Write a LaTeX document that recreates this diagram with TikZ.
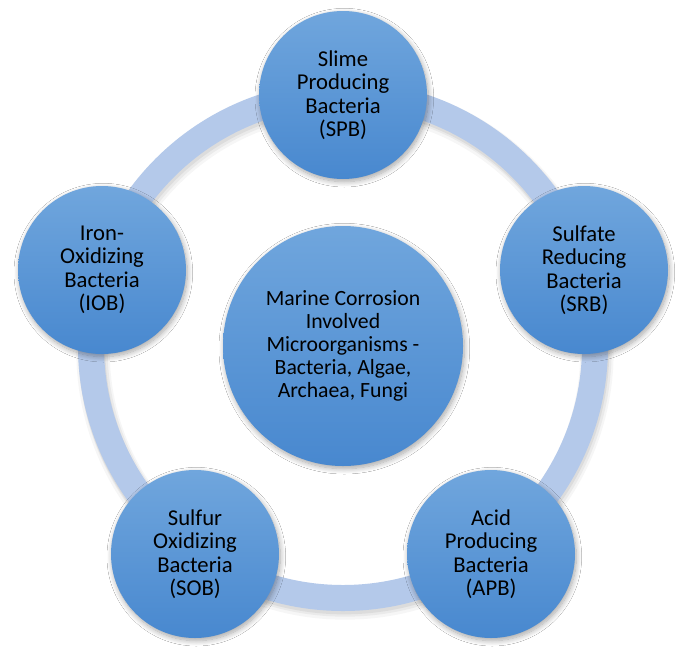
\documentclass[tikz,border=0pt]{standalone}
\usepackage{fontspec}
\setmainfont{Carlito}
\usetikzlibrary{shadows.blur}
\definecolor{ringblue}{RGB}{180,201,234}
\definecolor{topblue}{RGB}{112,166,221}
\definecolor{botblue}{RGB}{72,136,207}
\tikzset{
  bub/.style={circle, minimum size=168*0.75pt, inner sep=0pt, top color=topblue, bottom color=botblue, draw=none,
    blur shadow={shadow xshift=1pt, shadow yshift=-2pt, shadow blur steps=10, shadow opacity=35, shadow blur radius=4pt},
    align=center, font=\fontsize{17pt}{17.6pt}\selectfont, text=black},
  bigbub/.style={bub, minimum size=240*0.75pt, font=\fontsize{16.3pt}{17.3pt}\selectfont},
  ringstroke/.style={draw=ringblue, line width=19.5pt},
}
\begin{document}
\begin{tikzpicture}[x=0.75pt,y=-0.75pt]
\useasboundingbox (0,0) rectangle (685,661);
\fill[white] (0,0) rectangle (685,661);
\coordinate (c) at (343,346);
% ring shadow
\draw[black!60, opacity=0.06, line width=25pt] ([shift={(2,5)}]c) circle (252);
\draw[black!60, opacity=0.08, line width=22pt] ([shift={(2,4)}]c) circle (252);
\draw[black!60, opacity=0.10, line width=20pt] ([shift={(1,3)}]c) circle (252);
% ring
\draw[ringstroke] (c) circle (252);
% nodes
\node[bigbub] (mid) at (c) {Marine Corrosion\\Involved\\Microorganisms -\\Bacteria, Algae,\\Archaea, Fungi};
\node[bub] (spb) at (343,95) {Slime\\Producing\\Bacteria\\(SPB)};
\node[bub] (srb) at (584,270) {Sulfate\\Reducing\\Bacteria\\(SRB)};
\node[bub] (iob) at (102,270) {Iron-\\Oxidizing\\Bacteria\\(IOB)};
\node[bub] (sob) at (195,554) {Sulfur\\Oxidizing\\Bacteria\\(SOB)};
\node[bub] (apb) at (491,554) {Acid\\Producing\\Bacteria\\(APB)};
\end{tikzpicture}
\end{document}
